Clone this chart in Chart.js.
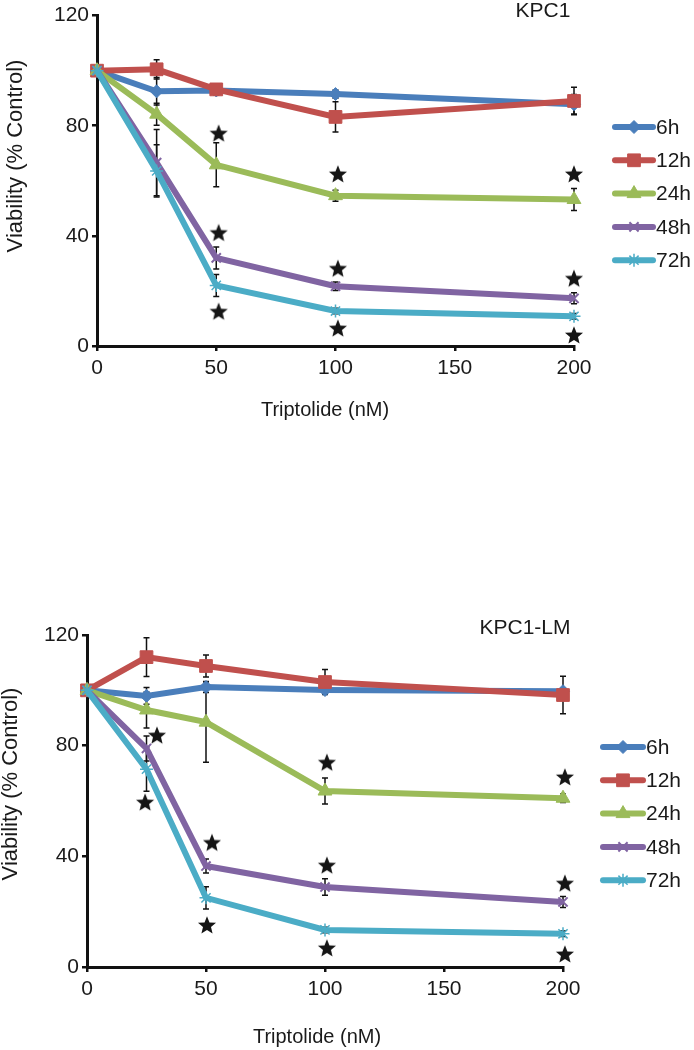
<!DOCTYPE html>
<html lang="en">
<head>
<meta charset="UTF-8">
<title>Triptolide viability</title>
<script src="https://cdn.jsdelivr.net/npm/chart.js"></script>
<style>
  body { margin: 0; background: #fff; }
  .panel { position: absolute; left: 0; width: 694px; }
  #top { top: 0; height: 440px; }
  #bottom { top: 590px; height: 460px; }
</style>
</head>
<body>
<div class="panel" id="top"><canvas id="kpc1"></canvas></div>
<div class="panel" id="bottom"><canvas id="kpc1lm"></canvas></div>
<script>
// shared axes
const doses = [0, 25, 50, 100, 200];
const seriesNames = ['6h', '12h', '24h', '48h', '72h'];
const xTicks = [0, 50, 100, 150, 200];
const yTicks = [0, 40, 80, 120];

// KPC1 (top panel)
const kpc1_6h  = [100, 92.5, 92.8, 91.5, 87.8];
const kpc1_12h = [100, 100.5, 93.2, 83.2, 89];
const kpc1_24h = [100, 84.2, 65.8, 54.6, 53.2];
const kpc1_48h = [100, 66.6, 32, 21.7, 17.3];
const kpc1_72h = [100, 63.6, 22, 12.7, 10.8];
const kpc1Err_6h  = [0, 5, 1, 1.5, 3.5];
const kpc1Err_12h = [0, 3.5, 2, 5.5, 5];
const kpc1Err_24h = [0, 4, 8, 2, 4];
const kpc1Err_48h = [0, 12, 4, 1.5, 2];
const kpc1Err_72h = [0, 9.5, 4, 1, 1];
const kpc1StarX = [51, 51, 51, 101, 101, 101, 200, 200, 200];
const kpc1StarY = [77.3, 41.2, 12.6, 62.5, 28.2, 6.5, 62.5, 24.6, 4];

// KPC1-LM (bottom panel)
const lm_6h  = [100, 98, 101.2, 100.1, 99.7];
const lm_12h = [100, 112, 108.8, 103, 98.3];
const lm_24h = [100, 92.9, 88.5, 63.6, 61];
const lm_48h = [100, 79, 36.5, 28.9, 23.5];
const lm_72h = [100, 71.5, 25, 13.4, 12];
const lmErr_6h  = [0, 3, 2, 1.5, 1];
const lmErr_12h = [0, 7, 4, 4.5, 6.8];
const lmErr_24h = [0, 6.5, 14.5, 4.7, 1.5];
const lmErr_48h = [0, 4.5, 2.5, 3, 2];
const lmErr_72h = [0, 8, 4, 1, 1];
const lmStarX = [29.4, 24.4, 52.5, 50.4, 100.8, 100.8, 100.8, 200.8, 200.8, 200.8];
const lmStarY = [83.8, 59.6, 45, 15.2, 74, 36.8, 6.9, 68.7, 30.3, 4.7];

const colors = ['#4a7ebb', '#c0504d', '#9bbb59', '#8064a2', '#4bacc6'];
const markers = [
  { pointStyle: 'rectRot', pointRadius: 6.5, pointBorderWidth: 1 },
  { pointStyle: 'rect', pointRadius: 9, pointBorderWidth: 1 },
  { pointStyle: 'triangle', pointRadius: 8, pointBorderWidth: 1 },
  { pointStyle: 'crossRot', pointRadius: 6.5, pointBorderWidth: 2 },
  { pointStyle: 'star', pointRadius: 6.5, pointBorderWidth: 1.5 }
];
const FONT = "'Liberation Sans', Arial, sans-serif";

Chart.defaults.font.family = FONT;
Chart.defaults.color = '#1a1a1a';

// filled five point star used for the significance marks
const starImg = document.createElement('canvas');
starImg.width = 20; starImg.height = 20;
(function () {
  const c = starImg.getContext('2d');
  c.beginPath();
  for (let k = 0; k < 10; k++) {
    const r = k % 2 ? 4.2 : 9.5;
    const a = -Math.PI / 2 + k * Math.PI / 5;
    const px = 10 + r * Math.cos(a), py = 10.8 + r * Math.sin(a);
    k ? c.lineTo(px, py) : c.moveTo(px, py);
  }
  c.closePath();
  c.fillStyle = '#151515';
  c.fill();
})();

const decoPlugin = {
  id: 'deco',
  beforeDatasetsDraw(chart) {
    // error bars, behind the lines
    const ctx = chart.ctx, xs = chart.scales.x, ys = chart.scales.y;
    ctx.save();
    ctx.strokeStyle = '#111';
    ctx.lineWidth = 1.5;
    chart.data.datasets.forEach(ds => {
      if (!ds.err) return;
      ds.data.forEach((p, i) => {
        const e = ds.err[i];
        if (!e) return;
        const x = xs.getPixelForValue(p.x);
        const y1 = ys.getPixelForValue(p.y + e), y2 = ys.getPixelForValue(p.y - e);
        ctx.beginPath();
        ctx.moveTo(x, y1); ctx.lineTo(x, y2);
        ctx.moveTo(x - 3, y1); ctx.lineTo(x + 3, y1);
        ctx.moveTo(x - 3, y2); ctx.lineTo(x + 3, y2);
        ctx.stroke();
      });
    });
    ctx.restore();
  },
  afterDraw(chart, args, o) {
    const ctx = chart.ctx;
    ctx.save();
    ctx.fillStyle = '#1a1a1a';
    ctx.textAlign = 'center';
    ctx.textBaseline = 'middle';
    ctx.font = '21px ' + FONT;
    ctx.fillText(o.title, o.titleX, o.titleY);
    ctx.font = '20px ' + FONT;
    ctx.fillText('Triptolide (nM)', o.xTitleX, o.xTitleY);
    ctx.save();
    ctx.translate(o.yTitleX, o.yTitleY);
    ctx.rotate(-Math.PI / 2);
    ctx.font = '22px ' + FONT;
    ctx.fillText('Viability (% Control)', 0, 0);
    ctx.restore();

    // legend: line sample with marker, then label
    chart.data.datasets.forEach((ds, i) => {
      if (!ds.err) return;
      const y = o.legendY + i * 33.3;
      ctx.strokeStyle = ds.borderColor;
      ctx.lineWidth = 6;
      ctx.lineCap = 'round';
      ctx.beginPath();
      ctx.moveTo(o.legendX, y); ctx.lineTo(o.legendX + o.legendLen, y);
      ctx.stroke();
      ctx.fillStyle = ds.borderColor;
      ctx.lineWidth = ds.pointBorderWidth;
      ctx.lineCap = 'butt';
      Chart.helpers.drawPoint(ctx, {
        pointStyle: ds.pointStyle, radius: ds.pointRadius,
        borderWidth: ds.pointBorderWidth, rotation: 0
      }, o.legendX + o.legendLen / 2, y);
      ctx.fillStyle = '#1a1a1a';
      ctx.textAlign = 'left';
      ctx.font = '21px ' + FONT;
      ctx.fillText(ds.label, o.legendX + o.legendLen + 3, y + 1);
    });
    ctx.restore();
  }
};

function makeChart(id, values, errors, starX, starY, box, deco) {
  const datasets = values.map((vals, i) => Object.assign({
    label: seriesNames[i],
    data: doses.map((d, j) => ({ x: d, y: vals[j] })),
    err: errors[i],
    borderColor: colors[i],
    backgroundColor: colors[i],
    pointBackgroundColor: colors[i],
    pointBorderColor: colors[i],
    borderWidth: 6,
    tension: 0,
    order: 5 - i
  }, markers[i]));

  datasets.push({
    type: 'scatter',
    label: 'significant',
    data: starX.map((x, j) => ({ x: x, y: starY[j] })),
    pointStyle: starImg,
    showLine: false,
    order: -1
  });

  const axisStyle = {
    border: { color: '#111', width: 3 },
    grid: { drawOnChartArea: false, drawTicks: true, tickLength: 5, color: '#111', lineWidth: 2.5 }
  };

  return new Chart(document.getElementById(id), {
    type: 'line',
    data: { datasets: datasets },
    plugins: [decoPlugin],
    options: {
      responsive: true,
      maintainAspectRatio: false,
      animation: false,
      clip: false,
      layout: { padding: { left: 0, right: box.right, top: box.top, bottom: 0 } },
      plugins: { legend: { display: false }, tooltip: { enabled: false }, deco: deco },
      scales: {
        x: Object.assign({
          type: 'linear', min: 0, max: 200,
          afterBuildTicks: s => { s.ticks = xTicks.map(v => ({ value: v })); },
          afterFit: s => { s.height = box.xHeight; },
          ticks: { font: { size: 21 }, padding: 5, color: '#1a1a1a' }
        }, axisStyle),
        y: Object.assign({
          min: 0, max: 120,
          afterBuildTicks: s => { s.ticks = yTicks.map(v => ({ value: v })); },
          afterFit: s => { s.width = box.yWidth; },
          ticks: { font: { size: 21 }, padding: 3, color: '#1a1a1a' }
        }, axisStyle)
      }
    }
  });
}

makeChart('kpc1',
  [kpc1_6h, kpc1_12h, kpc1_24h, kpc1_48h, kpc1_72h],
  [kpc1Err_6h, kpc1Err_12h, kpc1Err_24h, kpc1Err_48h, kpc1Err_72h],
  kpc1StarX, kpc1StarY,
  { right: 120, top: 14, xHeight: 94, yWidth: 97 },
  { title: 'KPC1', titleX: 543, titleY: 11, xTitleX: 325, xTitleY: 410,
    yTitleX: 16, yTitleY: 156, legendX: 615, legendY: 127, legendLen: 38 });

makeChart('kpc1lm',
  [lm_6h, lm_12h, lm_24h, lm_48h, lm_72h],
  [lmErr_6h, lmErr_12h, lmErr_24h, lmErr_48h, lmErr_72h],
  lmStarX, lmStarY,
  { right: 131, top: 45, xHeight: 83, yWidth: 87 },
  { title: 'KPC1-LM', titleX: 525, titleY: 38, xTitleX: 317, xTitleY: 447,
    yTitleX: 11, yTitleY: 194, legendX: 603, legendY: 157, legendLen: 40 });
</script>
</body>
</html>
